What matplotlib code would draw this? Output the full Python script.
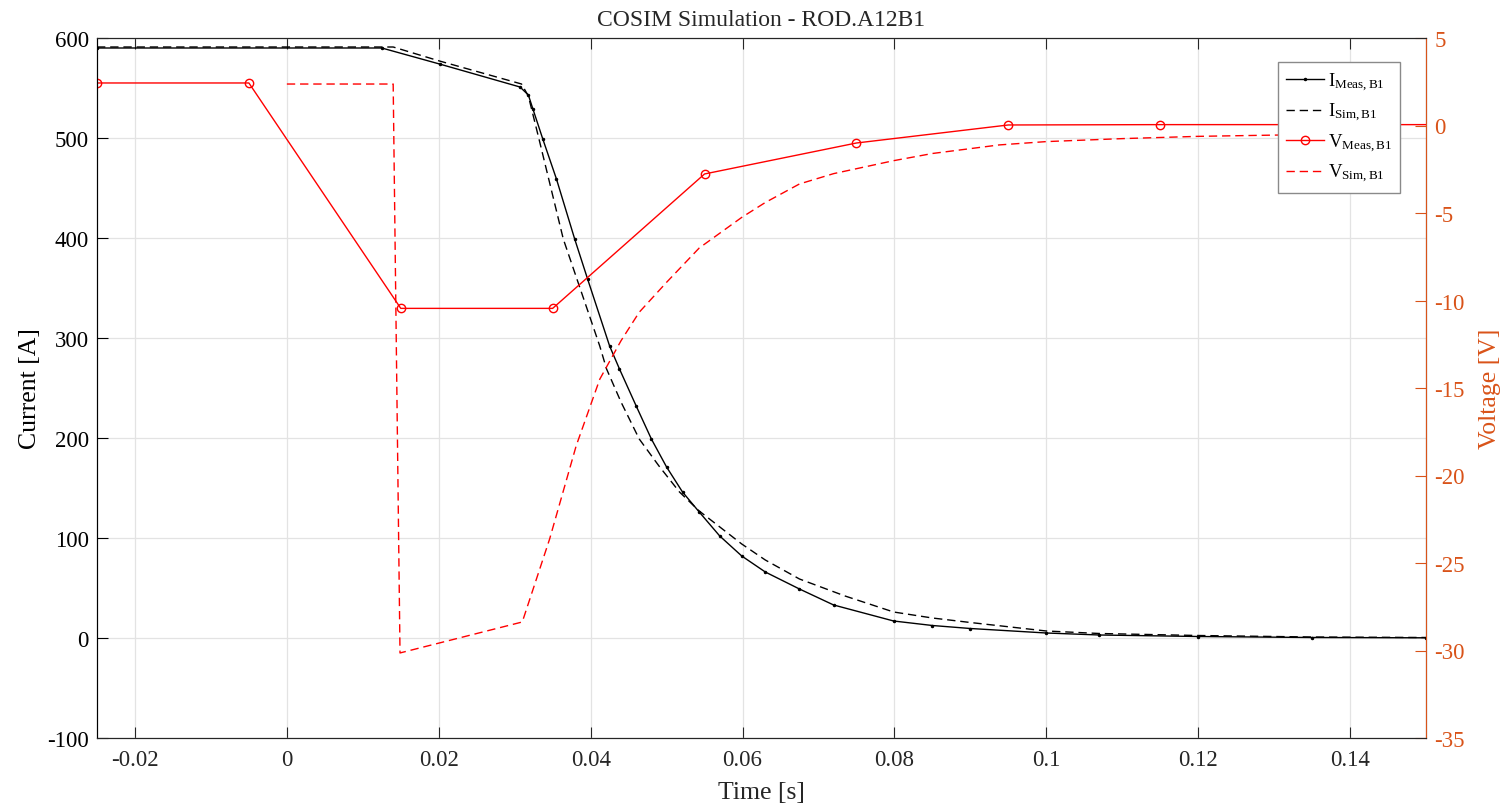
import matplotlib
matplotlib.use("Agg")
import matplotlib.pyplot as plt

plt.rcParams['font.family'] = ['Liberation Serif', 'DejaVu Serif']
plt.rcParams['mathtext.fontset'] = 'custom'
plt.rcParams['mathtext.rm'] = 'Liberation Serif'
plt.rcParams['mathtext.it'] = 'Liberation Serif:italic'
plt.rcParams['axes.unicode_minus'] = False

# ---------------- data ----------------
t_i_meas = [-0.025, 0.0125, 0.0201, 0.0307, 0.0318, 0.0324, 0.0337, 0.0355, 0.0379,
            0.0396, 0.0425, 0.0438, 0.0460, 0.0480, 0.0500, 0.0521, 0.0543, 0.0570,
            0.0599, 0.0630, 0.0675, 0.0720, 0.0799, 0.0850, 0.0900, 0.1000, 0.1070,
            0.1200, 0.1350, 0.1500]
i_meas = [590, 590, 574, 551, 543, 529, 499, 459, 399,
          359, 292, 269, 232, 199, 171, 146, 126, 102,
          82, 66, 49, 33, 17, 12.5, 9.5, 5, 3,
          1.5, 0.5, 0.2]

t_i_sim = [-0.025, 0.0140, 0.0201, 0.0309, 0.0318, 0.0332, 0.0364, 0.0412, 0.0421,
           0.0440, 0.0464, 0.0490, 0.0517, 0.0543, 0.0599, 0.0630, 0.0675, 0.0735,
           0.0799, 0.0850, 0.0900, 0.1000, 0.1070, 0.1200, 0.1350, 0.1500]
i_sim = [591, 591, 577, 554, 542, 499, 399, 292, 269,
         236, 199, 172, 146, 127, 94, 78, 59, 42,
         26, 20, 15.5, 7, 4.5, 2.5, 1, 0.5]

t_v_meas = [-0.025, -0.005, 0.015, 0.035, 0.055, 0.075, 0.095, 0.115, 0.135, 0.155]
v_meas = [2.43, 2.43, -10.45, -10.45, -2.77, -1.0, 0.03, 0.05, 0.05, 0.05]

t_v_sim = [0.0, 0.0140, 0.0149, 0.0310, 0.0346, 0.0381, 0.0412, 0.0440, 0.0464,
           0.0500, 0.0543, 0.0599, 0.0630, 0.0675, 0.0720, 0.0799, 0.0850, 0.0938,
           0.1000, 0.1100, 0.1200, 0.1313, 0.1400, 0.1450]
v_sim = [2.37, 2.37, -30.14, -28.37, -23.63, -18.3, -14.5, -12.3, -10.67,
         -8.96, -7.0, -5.25, -4.4, -3.34, -2.75, -2.01, -1.6, -1.11,
         -0.92, -0.75, -0.62, -0.54, -0.48, -0.45]

x_ticks = [-0.02, 0, 0.02, 0.04, 0.06, 0.08, 0.1, 0.12, 0.14]
x_ticklabels = ['-0.02', '0', '0.02', '0.04', '0.06', '0.08', '0.1', '0.12', '0.14']
yl_ticks = [-100, 0, 100, 200, 300, 400, 500, 600]
yr_ticks = [-35, -30, -25, -20, -15, -10, -5, 0, 5]

labels = [r'I$_{\mathrm{Meas,B1}}$', r'I$_{\mathrm{Sim,B1}}$',
          r'V$_{\mathrm{Meas,B1}}$', r'V$_{\mathrm{Sim,B1}}$']

# ---------------- figure ----------------
orange = '#D95319'
axcol = '#262626'
fig = plt.figure(figsize=(15.01, 8.04), dpi=100)
ax = fig.add_axes([97/1501, 65/804, (1426-97)/1501, (739-39)/804])
ax2 = ax.twinx()

dash = (0, (6, 3.5))
h1, = ax.plot(t_i_meas, i_meas, '-', color='black', lw=1.0, marker='.', ms=3)
h2, = ax.plot(t_i_sim, i_sim, color='black', lw=1.0, linestyle=dash)
h3, = ax2.plot(t_v_meas, v_meas, '-', color='red', lw=1.0, marker='o', ms=6,
               mfc='none', mew=1.0)
h4, = ax2.plot(t_v_sim, v_sim, color='red', lw=1.0, linestyle=dash)

ax.set_xlim(-0.025, 0.15)
ax.set_ylim(-100, 600)
ax2.set_ylim(-35, 5)

ax.set_xticks(x_ticks)
ax.set_xticklabels(x_ticklabels)
ax.set_yticks(yl_ticks)
ax2.set_yticks(yr_ticks)

ax.grid(True, color='#e3e3e3', lw=0.9)
ax.set_axisbelow(True)

ax.tick_params(axis='x', direction='in', length=8, width=0.8, top=True,
               labelsize=16.5, colors=axcol, pad=8)
ax.tick_params(axis='y', direction='in', length=8, width=0.8, right=False,
               labelsize=16.5, colors='black', pad=6)
ax2.tick_params(axis='y', direction='in', length=8, width=0.8,
                labelsize=16.5, colors=orange, pad=6)

for s in ['bottom', 'top']:
    ax.spines[s].set_color(axcol)
    ax2.spines[s].set_color(axcol)
ax.spines['left'].set_color('black')
ax2.spines['left'].set_color('black')
ax2.spines['right'].set_color(orange)
for a in (ax, ax2):
    for s in a.spines.values():
        s.set_linewidth(0.8)

ax.set_xlabel('Time [s]', fontsize=18.5, color=axcol, labelpad=8)
ax.set_ylabel('Current [A]', fontsize=18.5, color='black', labelpad=4)
ax2.set_ylabel('Voltage [V]', fontsize=18.5, color=orange, labelpad=10)
ax.set_title('COSIM Simulation - ROD.A12B1', fontsize=17, color=axcol, pad=9)

leg = ax2.legend([h1, h2, h3, h4], labels, loc='upper right',
                 bbox_to_anchor=(1400/1501, 1 - 63/804),
                 bbox_transform=fig.transFigure, fontsize=13.5,
                 frameon=True, fancybox=False, framealpha=1, edgecolor='#8a8a8a',
                 handlelength=2.0, handletextpad=0.2, labelspacing=0.45,
                 borderpad=0.45, borderaxespad=0)
leg.get_frame().set_linewidth(1.0)

fig.savefig('out.png', dpi=100)
